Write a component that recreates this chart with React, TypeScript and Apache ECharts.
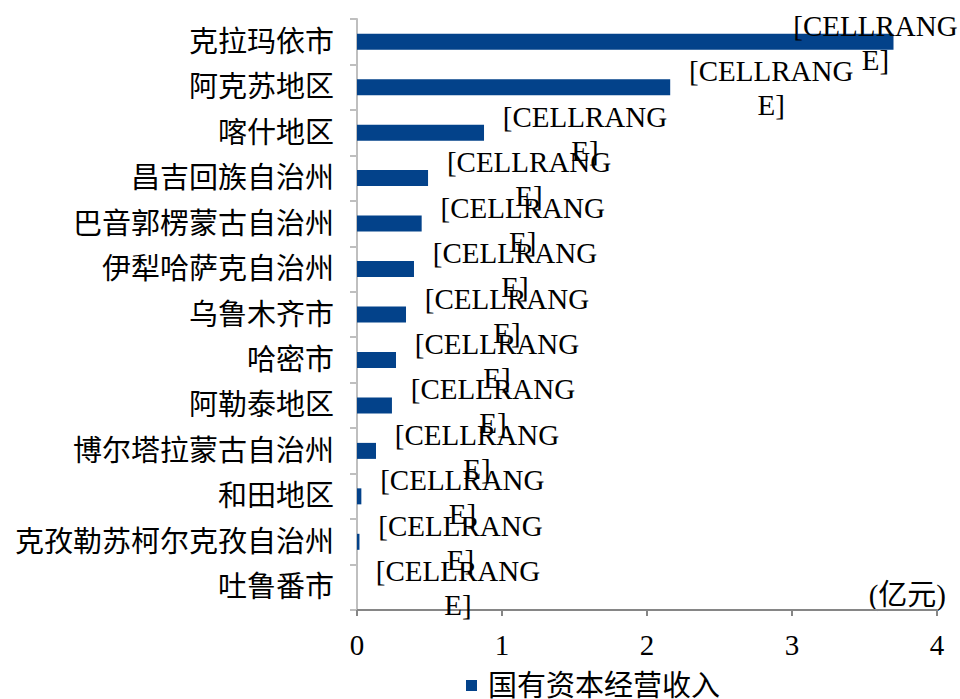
import React, { useEffect, useRef } from "react";
import * as echarts from "echarts";

const categories = [
  "克拉玛依市",
  "阿克苏地区",
  "喀什地区",
  "昌吉回族自治州",
  "巴音郭楞蒙古自治州",
  "伊犁哈萨克自治州",
  "乌鲁木齐市",
  "哈密市",
  "阿勒泰地区",
  "博尔塔拉蒙古自治州",
  "和田地区",
  "克孜勒苏柯尔克孜自治州",
  "吐鲁番市",
];
const values = [3.7, 2.16, 0.876, 0.49, 0.446, 0.393, 0.338, 0.269, 0.241, 0.131, 0.03, 0.017, 0];
const seriesName = "国有资本经营收入";
const dataLabelText = "[CELLRANG\nE]";
const unitLabel = "(亿元)";
const xMin = 0;
const xMax = 4;
const xInterval = 1;

const FONT = "'Liberation Serif', 'Times New Roman', 'Noto Sans CJK SC', serif";

export default function App() {
  const ref = useRef<HTMLDivElement>(null);
  useEffect(() => {
    document.body.style.margin = "0";
    if (!ref.current) return;
    const chart = echarts.init(ref.current, undefined, { renderer: "svg" });
    const data = values.map((v, i) =>
      i === 0 ? { value: v, label: { offset: [-119, 1] } } : { value: v }
    );
    chart.setOption({
      animation: false,
      backgroundColor: "#ffffff",
      textStyle: { fontFamily: FONT },
      grid: { left: 357, right: 23, top: 19, bottom: 89 },
      legend: {
        data: [seriesName],
        left: 466,
        top: 671,
        padding: 0,
        icon: "rect",
        itemWidth: 11,
        itemHeight: 11,
        textStyle: { fontSize: 29, color: "#000", fontFamily: FONT, padding: [0, 0, 0, 6] },
      },
      xAxis: {
        type: "value",
        min: xMin,
        max: xMax,
        interval: xInterval,
        splitLine: { show: false },
        axisLine: { show: true, lineStyle: { color: "#868686", width: 2 } },
        axisTick: { show: true, length: 6, lineStyle: { color: "#868686", width: 2 } },
        axisLabel: { fontSize: 29, color: "#000", margin: 20, fontFamily: FONT },
      },
      yAxis: {
        type: "category",
        inverse: true,
        data: categories,
        axisLine: { show: true, lineStyle: { color: "#bfbfbf", width: 2 } },
        axisTick: { show: true, length: 7, lineStyle: { color: "#bfbfbf", width: 2 } },
        axisLabel: { fontSize: 29, color: "#000", margin: 23, fontFamily: FONT },
      },
      graphic: [
        {
          type: "text",
          x: 946,
          y: 595,
          style: {
            text: unitLabel,
            align: "right",
            verticalAlign: "middle",
            fontSize: 29,
            fontFamily: FONT,
            fill: "#000",
          },
        },
      ],
      series: [
        {
          name: seriesName,
          type: "bar",
          data,
          barWidth: 16,
          itemStyle: { color: "#03428a" },
          label: {
            show: true,
            position: "right",
            distance: 101,
            align: "center",
            verticalAlign: "middle",
            offset: [0, 1],
            formatter: () => dataLabelText,
            fontSize: 29,
            lineHeight: 34,
            color: "#000",
            fontFamily: FONT,
          },
        },
      ],
    });
    return () => chart.dispose();
  }, []);
  return <div ref={ref} style={{ width: 960, height: 699 }} />;
}
